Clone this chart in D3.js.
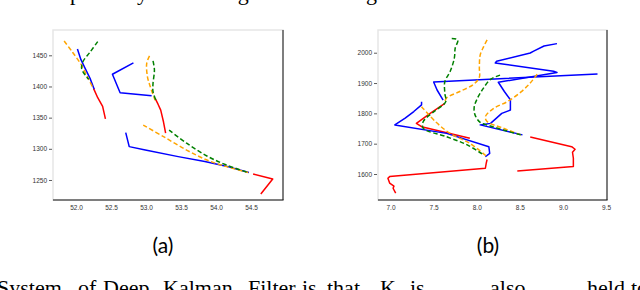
<!DOCTYPE html>
<html lang="en">
<head>
<meta charset="UTF-8">
<script src="https://cdn.jsdelivr.net/npm/d3@7"></script>
<style>
  body { margin:0; background:#fff; }
  svg { display:block; }
  .tick text { font-family:"Liberation Sans", Arial, sans-serif; font-size:6.5px; fill:#333; }
  .tick line { stroke:#333; stroke-width:0.8; }
  .para { font-family:"Liberation Serif", "Times New Roman", serif; font-size:22px; fill:#000; }
  .cap { font-family:Lato, "Open Sans", sans-serif; font-size:21px; fill:#000; text-anchor:middle; }
</style>
</head>
<body>
<svg></svg>
<script>
// ---- panel (a) ----
var aXTicks = [52.0, 52.5, 53.0, 53.5, 54.0, 54.5];
var aYTicks = [1250, 1300, 1350, 1400, 1450];

var aRed = [
  [[52.25,1397],[52.31,1382],[52.38,1368],[52.40,1358],[52.42,1348]],
  [[53.13,1381],[53.17,1372],[53.21,1362],[53.25,1343],[53.28,1325]],
  [[54.53,1259.5],[54.81,1251.5],[54.64,1227.5]]
];
var aBlue = [
  [[52.02,1460],[52.07,1443],[52.13,1429],[52.20,1413],[52.26,1395.5]],
  [[52.82,1438],[52.52,1419.6],[52.63,1390],[53.08,1385]],
  [[52.71,1326],[52.76,1303.5],[52.99,1298],[53.46,1287.5],[53.84,1279.5],[54.13,1272.6],[54.47,1262]]
];
var aOrange = [
  [[51.83,1473],[51.95,1455],[52.08,1434],[52.17,1414],[52.25,1396]],
  [[53.05,1449],[53.01,1437],[53.02,1416],[53.06,1400],[53.13,1378]],
  [[52.96,1338],[53.25,1319.5],[53.58,1298],[53.87,1282],[54.15,1271.4],[54.46,1262]]
];
var aGreen = [
  [[52.31,1472],[52.20,1455],[52.10,1440],[52.08,1429],[52.13,1418.4],[52.18,1411.5]],
  [[53.10,1441],[53.12,1426.4],[53.10,1405],[53.10,1391.7],[53.15,1375.6]],
  [[53.33,1330],[53.58,1309],[53.87,1288.5],[54.15,1274],[54.46,1262]]
];

// ---- panel (b) ----
var bXTicks = [7.0, 7.5, 8.0, 8.5, 9.0, 9.5];
var bYTicks = [1600, 1700, 1800, 1900, 2000];

var bRed = [
  [[7.06,1537],[7.03,1553],[7.04,1560],[6.99,1570],[6.97,1586],[6.99,1591.5],[8.10,1619],[8.11,1636],[8.12,1648]],
  [[7.63,1833],[7.46,1800],[7.30,1767],[7.36,1756],[7.92,1718]],
  [[8.62,1722],[9.10,1690],[9.14,1681.6],[9.11,1671.8],[9.12,1652],[9.12,1624.4],[8.47,1610]]
];
var bBlue = [
  [[9.40,1930],[7.50,1903.5],[7.54,1877],[7.61,1844]],
  [[8.93,2030],[8.78,2022],[8.66,2005],[8.62,1999],[8.23,1972],[8.215,1966],[8.89,1939],[8.93,1935],
   [8.25,1902.5],[8.32,1872],[8.39,1845],[8.39,1811],[8.29,1800],[8.16,1767],[8.04,1762],[8.53,1729]],
  [[7.36,1838.5],[7.36,1828],[7.27,1806],[7.17,1784],[7.05,1762],[7.65,1734],[8.14,1690],[8.15,1668],[8.10,1657]]
];
var bOrange = [
  [[8.12,2042],[8.08,2020],[8.04,1993],[8.03,1950],[8.03,1919],[7.96,1895],[7.81,1873],[7.65,1851],[7.63,1838]],
  [[8.70,1929],[8.62,1900],[8.51,1870],[8.35,1838],[8.20,1817],[8.10,1789],[8.12,1773],[8.31,1751],[8.51,1729]],
  [[7.36,1822],[7.52,1773],[7.69,1734],[7.92,1701],[8.12,1657]]
];
var bGreen = [
  [[7.71,2047],[7.78,2042],[7.75,2015],[7.74,1982],[7.69,1937],[7.63,1905],[7.63,1866],[7.64,1838],
   [7.50,1805],[7.38,1773],[7.38,1751],[7.65,1723],[7.89,1696],[8.08,1663]],
  [[8.27,1926],[8.16,1912],[8.07,1880],[8.00,1845],[7.97,1820],[7.98,1795],[8.04,1770],[8.14,1760],[8.31,1745],[8.51,1729]]
];

var svg = d3.select("svg").attr("width", 640).attr("height", 290);

function drawPanel(p) {
  var x = d3.scaleLinear().domain(p.xDomain).range([p.left, p.right]);
  var y = d3.scaleLinear().domain(p.yDomain).range([p.bottom, p.top]);
  var g = svg.append("g");

  // light frame, dark bottom/right edge
  g.append("rect")
    .attr("x", p.left).attr("y", p.top)
    .attr("width", p.right - p.left).attr("height", p.bottom - p.top)
    .attr("fill", "none").attr("stroke", "#e6e6e6").attr("stroke-width", 1.5);
  g.append("line").attr("x1", p.left).attr("x2", p.right + 0.5)
    .attr("y1", p.bottom).attr("y2", p.bottom)
    .attr("stroke", "#111").attr("stroke-width", 1.2);
  g.append("line").attr("x1", p.right).attr("x2", p.right)
    .attr("y1", p.top).attr("y2", p.bottom)
    .attr("stroke", "#111").attr("stroke-width", 1);

  var yAxis = g.append("g").attr("transform", "translate(" + (p.left - 1) + ",0)")
    .call(d3.axisLeft(y).tickValues(p.yTicks).tickSize(3).tickPadding(2).tickFormat(d3.format("d")));
  yAxis.select(".domain").remove();
  var xAxis = g.append("g").attr("transform", "translate(0," + p.bottom + ")")
    .call(d3.axisBottom(x).tickValues(p.xTicks).tickSize(0).tickPadding(5).tickFormat(d3.format(".1f")));
  xAxis.select(".domain").remove();

  var straight = d3.line().x(function(d){ return x(d[0]); }).y(function(d){ return y(d[1]); });
  var smooth = d3.line().curve(d3.curveCatmullRom.alpha(0.5))
    .x(function(d){ return x(d[0]); }).y(function(d){ return y(d[1]); });

  var series = [
    {data: p.red,    color: "#ff0000", dash: null,  line: straight},
    {data: p.blue,   color: "#0000ff", dash: null,  line: straight},
    {data: p.orange, color: "#ffa500", dash: "4.5,2.5", line: smooth},
    {data: p.green,  color: "#008000", dash: "4.5,2.5", line: smooth}
  ];
  series.forEach(function(s){
    g.append("g").selectAll("path").data(s.data).enter().append("path")
      .attr("d", s.line)
      .attr("fill", "none")
      .attr("stroke", s.color)
      .attr("stroke-width", 1.5)
      .attr("stroke-linejoin", "round")
      .attr("stroke-dasharray", s.dash);
  });

  svg.append("text").attr("class", "cap").attr("x", p.capX).attr("y", 253).text(p.cap);
}

drawPanel({
  left: 53, right: 283, top: 30, bottom: 200,
  xDomain: [51.671, 54.957], yDomain: [1217.9, 1490.6],
  xTicks: aXTicks, yTicks: aYTicks,
  red: aRed, blue: aBlue, orange: aOrange, green: aGreen,
  cap: "(a)", capX: 163
});
drawPanel({
  left: 378, right: 607, top: 30, bottom: 200,
  xDomain: [6.855, 9.51], yDomain: [1514.3, 2074.9],
  xTicks: bXTicks, yTicks: bYTicks,
  red: bRed, blue: bBlue, orange: bOrange, green: bGreen,
  cap: "(b)", capX: 488
});

// surrounding paper text, clipped by the page edges
var topText = svg.append("text").attr("class", "para").attr("y", 0);
[["temporal", 37], ["by", 126], ["using", 201], ["tracking", 305]].forEach(function(w){
  topText.append("tspan").attr("x", w[1]).text(w[0]);
});
var botText = svg.append("text").attr("class", "para").attr("y", 295);
[["System", -3], ["of", 78], ["Deep", 103], ["Kalman", 163], ["Filter", 248], ["is", 302],
 ["that", 327], ["K", 380], ["is", 410], ["also", 490], ["held", 587], ["to", 631]].forEach(function(w){
  botText.append("tspan").attr("x", w[1]).text(w[0]);
});
</script>
</body>
</html>
